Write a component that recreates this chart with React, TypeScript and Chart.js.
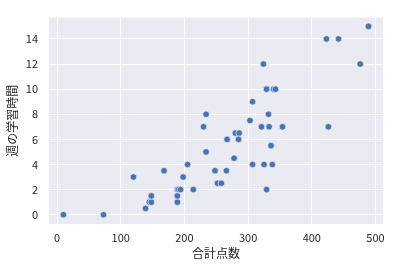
import React, { useEffect, useRef } from "react";
import { Chart, registerables } from "chart.js";

Chart.register(...registerables);

const totalScores: number[] = [
  10, 73, 139, 145, 148, 148, 120, 168, 189, 189, 189, 191, 194, 198, 205, 214,
  234, 230, 234, 248, 252, 489, 423, 442, 476, 324, 329, 340, 343, 307, 332,
  303, 321, 333, 354, 426, 280, 286, 267, 285, 336, 278, 307, 325, 338, 266,
  258, 329,
];
const weeklyHours: number[] = [
  0, 0, 0.5, 1, 1, 1.5, 3, 3.5, 1, 1.5, 2, 2, 2, 3, 4, 2,
  8, 7, 5, 3.5, 2.5, 15, 14, 14, 12, 12, 10, 10, 10, 9, 8,
  7.5, 7, 7, 7, 7, 6.5, 6.5, 6, 6, 5.5, 4.5, 4, 4, 4, 3.5,
  2.5, 2,
];
const xTicks: number[] = [0, 100, 200, 300, 400, 500];
const yTicks: number[] = [0, 2, 4, 6, 8, 10, 12, 14];
const xLabel = "合計点数";
const yLabel = "週の学習時間";

const FONT = "'Noto Sans CJK JP', 'Noto Sans', sans-serif";
const TEXT = "#262626";

export default function App() {
  const ref = useRef<HTMLCanvasElement | null>(null);

  useEffect(() => {
    if (!ref.current) return;
    const bgPlugin = {
      id: "plotBg",
      beforeDraw(chart: any) {
        const { ctx, chartArea } = chart;
        ctx.save();
        ctx.fillStyle = "#eaeaf2";
        ctx.fillRect(chartArea.left, chartArea.top, chartArea.right - chartArea.left, chartArea.bottom - chartArea.top);
        ctx.restore();
      },
    };
    const chart = new Chart(ref.current, {
      type: "scatter",
      data: {
        datasets: [
          {
            data: totalScores.map((x, i) => ({ x, y: weeklyHours[i] })),
            backgroundColor: "#4c72b0",
            borderColor: "#ffffff",
            borderWidth: 0.6,
            pointRadius: 3.3,
            pointHoverRadius: 3.3,
          },
        ],
      },
      options: {
        animation: false,
        responsive: false,
        maintainAspectRatio: false,
        events: [],
        layout: { padding: { top: 8, right: 10, left: 0, bottom: 0 } },
        plugins: { legend: { display: false }, tooltip: { enabled: false } },
        scales: {
          x: {
            type: "linear",
            min: -12.6,
            max: 511.8,
            afterBuildTicks: (s: any) => {
              s.ticks = xTicks.map((v) => ({ value: v }));
            },
            afterFit: (s: any) => {
              s.height = 44;
            },
            grid: { color: "#ffffff", lineWidth: 1, drawTicks: false },
            border: { display: false },
            ticks: {
              padding: 7,
              color: TEXT,
              font: { family: FONT, size: 11 },
              maxRotation: 0,
            },
            title: {
              display: true,
              text: xLabel,
              color: TEXT,
              font: { family: FONT, size: 12 },
              padding: { top: 0, bottom: 7 },
            },
          },
          y: {
            type: "linear",
            min: -0.74,
            max: 15.7,
            afterBuildTicks: (s: any) => {
              s.ticks = yTicks.map((v) => ({ value: v }));
            },
            afterFit: (s: any) => {
              s.width = 49;
            },
            grid: { color: "#ffffff", lineWidth: 1, drawTicks: false },
            border: { display: false },
            ticks: {
              padding: 11,
              color: TEXT,
              font: { family: FONT, size: 11 },
            },
            title: {
              display: true,
              text: yLabel,
              color: TEXT,
              font: { family: FONT, size: 12 },
              padding: { top: 5, bottom: 0 },
            },
          },
        },
      },
      plugins: [bgPlugin],
    });
    return () => chart.destroy();
  }, []);

  return (
    <div style={{ position: "fixed", left: 0, top: 0, width: 393, height: 268, background: "#ffffff" }}>
      <canvas ref={ref} width={393} height={268} style={{ width: 393, height: 268, display: "block" }} />
    </div>
  );
}
